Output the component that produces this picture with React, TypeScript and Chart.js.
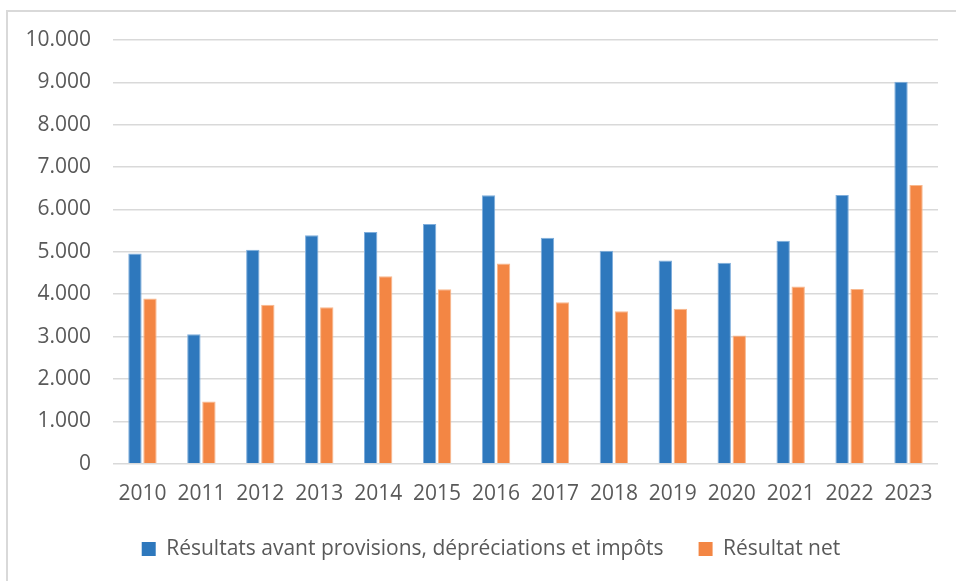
import React, { useEffect, useRef } from "react";
import { Chart, registerables } from "chart.js";

Chart.register(...registerables);

const years = ["2010", "2011", "2012", "2013", "2014", "2015", "2016", "2017", "2018", "2019", "2020", "2021", "2022", "2023"];
const resultatsAvant = [4960, 3055, 5050, 5390, 5470, 5660, 6335, 5335, 5025, 4795, 4740, 5260, 6340, 9015];
const resultatNet = [3900, 1470, 3750, 3690, 4425, 4120, 4725, 3810, 3600, 3660, 3025, 4180, 4125, 6575];
const seriesLabels = ["Résultats avant provisions, dépréciations et impôts", "Résultat net"];
const yMax = 10000;
const yStep = 1000;

const FONT = "'Open Sans', 'Noto Sans', sans-serif";
const TEXT = "#595959";

function fmt(v: number): string {
  return String(v).replace(/\B(?=(\d{3})+(?!\d))/g, ".");
}

export default function App() {
  const ref = useRef<HTMLCanvasElement | null>(null);

  useEffect(() => {
    if (!ref.current) return;
    const chart = new Chart(ref.current, {
      type: "bar",
      data: {
        labels: years,
        datasets: [
          {
            label: seriesLabels[0],
            data: resultatsAvant,
            backgroundColor: "#2E78BD",
            borderColor: "#7FAEDC",
            borderWidth: 1,
            categoryPercentage: 0.51,
            barPercentage: 0.89,
          },
          {
            label: seriesLabels[1],
            data: resultatNet,
            backgroundColor: "#F38644",
            borderColor: "#F8B88E",
            borderWidth: 1,
            categoryPercentage: 0.51,
            barPercentage: 0.89,
          },
        ],
      },
      options: {
        animation: false,
        responsive: false,
        maintainAspectRatio: false,
        layout: { padding: { left: 0, right: 0, top: 40, bottom: 11.5 } },
        plugins: {
          tooltip: { enabled: false },
          legend: {
            position: "bottom",
            align: "center",
            labels: {
              color: TEXT,
              font: { family: FONT, size: 21 },
              boxWidth: 14,
              boxHeight: 14,
              padding: 35,
              generateLabels: (c: any) =>
                c.data.datasets.map((ds: any, i: number) => ({
                  text: ds.label,
                  fillStyle: ds.backgroundColor,
                  strokeStyle: ds.backgroundColor,
                  lineWidth: 0,
                  hidden: false,
                  datasetIndex: i,
                  fontColor: TEXT,
                })),
            },
          },
        },
        scales: {
          x: {
            grid: { display: false, drawTicks: false },
            border: { display: false },
            ticks: { color: TEXT, font: { family: FONT, size: 21 }, padding: 18, maxRotation: 0, autoSkip: false },
            afterFit: (s: any) => {
              s.height = 39.8;
            },
          },
          y: {
            min: 0,
            max: yMax,
            grid: { color: "#D9D9D9", lineWidth: 1.6, drawTicks: false },
            border: { display: false },
            ticks: {
              stepSize: yStep,
              color: TEXT,
              font: { family: FONT, size: 21 },
              padding: 22,
              callback: (v: any) => fmt(Number(v)),
            },
            afterFit: (s: any) => {
              s.width = 113;
            },
          },
          yr: {
            position: "right",
            display: true,
            grid: { display: false, drawTicks: false },
            border: { display: false },
            ticks: { display: false },
            afterFit: (s: any) => {
              s.width = 44;
            },
          },
        },
      },
    });
    return () => chart.destroy();
  }, []);

  return (
    <div
      style={{
        position: "absolute",
        left: 0,
        top: 0,
        width: 956,
        height: 581,
        overflow: "hidden",
        background: "#ffffff",
      }}
    >
      <div
        style={{
          position: "absolute",
          left: 6,
          top: 10,
          width: 1200,
          height: 1200,
          border: "2px solid #D9D9D9",
          boxSizing: "border-box",
        }}
      />
      <canvas
        ref={ref}
        width={982}
        height={581}
        style={{ position: "absolute", left: 0, top: 0, width: 982, height: 581 }}
      />
    </div>
  );
}
